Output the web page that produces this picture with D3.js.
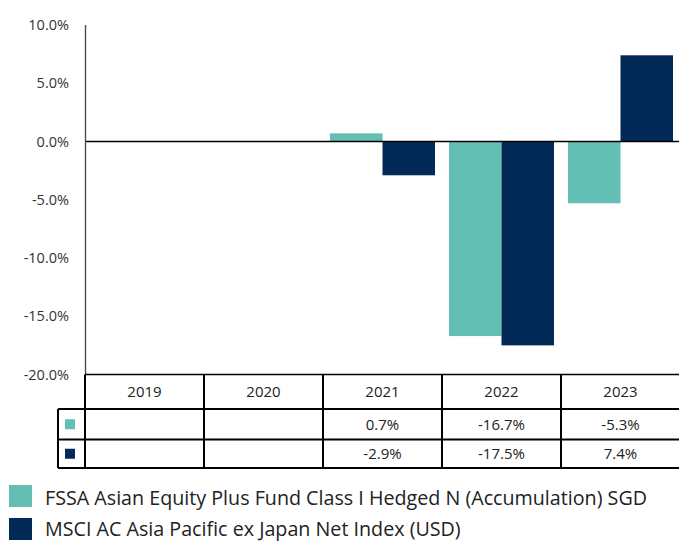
<!DOCTYPE html>
<html>
<head>
<meta charset="utf-8">
<title>Calendar year performance</title>
<style>
  body { margin: 0; background: #fff; }
  text { font-family: "Open Sans", "Noto Sans", sans-serif; }
</style>
</head>
<body>
<script src="https://d3js.org/d3.v7.min.js"></script>
<script>
var years = ["2019", "2020", "2021", "2022", "2023"];
var fundValues = [null, null, 0.7, -16.7, -5.3];
var indexValues = [null, null, -2.9, -17.5, 7.4];
var seriesNames = ["FSSA Asian Equity Plus Fund Class I Hedged N (Accumulation) SGD",
                   "MSCI AC Asia Pacific ex Japan Net Index (USD)"];
var yTicks = [10, 5, 0, -5, -10, -15, -20];

const W = 679, H = 541;
const colors = ["#63bfb3", "#032a56"];

const svg = d3.select("body").append("svg")
    .attr("width", W)
    .attr("height", H);

// scales
var x = d3.scaleBand().domain(years).range([85, 680]).paddingInner(0).paddingOuter(0);
var y = d3.scaleLinear().domain([-20, 10]).range([374.5, 25]);
var bandW = x.bandwidth();
var inner = d3.scaleBand().domain([0, 1]).range([7, bandW - 7]);

// y axis labels
svg.selectAll(".ytick").data(yTicks).enter().append("text")
    .attr("x", 69)
    .attr("y", d => y(d))
    .attr("dy", "0.35em")
    .attr("text-anchor", "end")
    .attr("font-size", 14.5)
    .attr("fill", "#333")
    .text(d => d.toFixed(1) + "%");

// bars
var series = [fundValues, indexValues];
series.forEach(function(vals, s) {
    svg.selectAll(".bar" + s)
        .data(years.map((yr, i) => ({ year: yr, v: vals[i] })).filter(d => d.v !== null))
        .enter().append("rect")
        .attr("x", d => x(d.year) + inner(s))
        .attr("width", inner.bandwidth())
        .attr("y", d => y(Math.max(0, d.v)))
        .attr("height", d => Math.abs(y(d.v) - y(0)))
        .attr("fill", colors[s]);
});

// zero line
svg.append("line")
    .attr("x1", 85).attr("x2", W)
    .attr("y1", y(0)).attr("y2", y(0))
    .attr("stroke", "#000").attr("stroke-width", 1.5);

// y axis line
svg.append("line")
    .attr("x1", 85.5).attr("x2", 85.5)
    .attr("y1", 25).attr("y2", 374)
    .attr("stroke", "#444").attr("stroke-width", 1.3);

// data table
var rowTop = [374.5, 409, 439.5, 468];
var tbl = svg.append("g").attr("stroke", "#000").attr("stroke-width", 2).attr("fill", "none");
tbl.append("line").attr("x1", 85).attr("x2", W).attr("y1", rowTop[0]).attr("y2", rowTop[0]).attr("stroke-width", 1.5);
rowTop.slice(1).forEach(function(ry) {
    tbl.append("line").attr("x1", 58).attr("x2", W).attr("y1", ry).attr("y2", ry);
});
tbl.append("line").attr("x1", 58).attr("x2", 58).attr("y1", rowTop[1]).attr("y2", rowTop[3]);
years.forEach(function(yr) {
    tbl.append("line").attr("x1", x(yr)).attr("x2", x(yr)).attr("y1", rowTop[0]).attr("y2", rowTop[3]);
});

// header text
svg.selectAll(".hdr").data(years).enter().append("text")
    .attr("x", d => x(d) + bandW / 2)
    .attr("y", (rowTop[0] + rowTop[1]) / 2)
    .attr("dy", "0.35em")
    .attr("text-anchor", "middle")
    .attr("font-size", 15)
    .attr("fill", "#222")
    .text(d => d);

// value rows
series.forEach(function(vals, s) {
    var cy = (rowTop[s + 1] + rowTop[s + 2]) / 2;
    svg.append("rect")
        .attr("x", 65).attr("y", cy - 5)
        .attr("width", 10).attr("height", 10)
        .attr("fill", colors[s]);
    svg.selectAll(".val" + s)
        .data(years.map((yr, i) => ({ year: yr, v: vals[i] })).filter(d => d.v !== null))
        .enter().append("text")
        .attr("x", d => x(d.year) + bandW / 2)
        .attr("y", cy)
        .attr("dy", "0.35em")
        .attr("text-anchor", "middle")
        .attr("font-size", 15)
        .attr("fill", "#222")
        .text(d => d.v.toFixed(1) + "%");
});

// legend
var legendY = [485, 518];
var legendBase = [505, 535.5];
seriesNames.forEach(function(name, s) {
    svg.append("rect")
        .attr("x", 9).attr("y", legendY[s])
        .attr("width", 23).attr("height", 22)
        .attr("fill", colors[s]);
    svg.append("text")
        .attr("x", 45).attr("y", legendBase[s])
        .attr("font-size", 19.7)
        .attr("fill", "#222")
        .text(name);
});
</script>
</body>
</html>
